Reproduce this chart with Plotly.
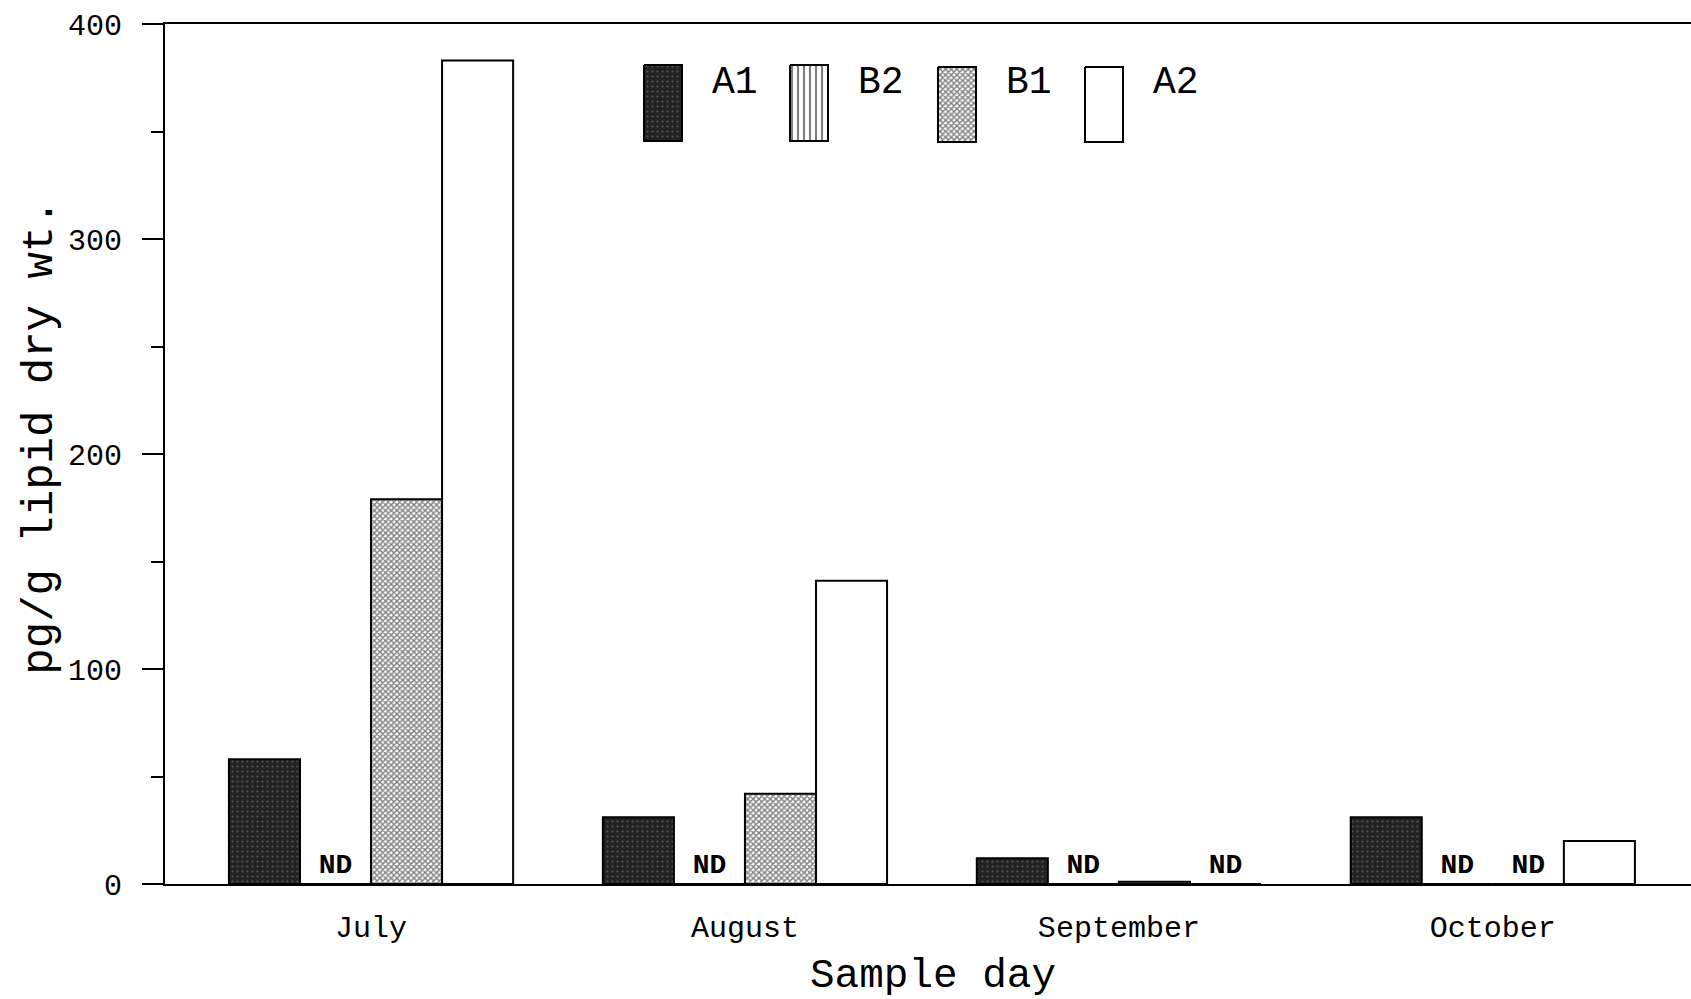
import plotly.graph_objects as go

# Sample months and measured concentrations (pg/g lipid dry wt.); None = not detected
months = ["July", "August", "September", "October"]
a1 = [58, 31, 12, 31]
b2 = [None, None, None, None]
b1 = [179, 42, 1, None]
a2 = [383, 141, None, 20]

y_ticks = [0, 100, 200, 300, 400]

FONT = "Liberation Mono"

series = [
    ("A1", a1, dict(color="#262626", pattern=dict(shape=".", fgcolor="#8a8a8a", bgcolor="#222222", size=5, solidity=0.15))),
    ("B2", b2, dict(color="white", pattern=dict(shape="|", fgcolor="#000000", bgcolor="white", size=6, solidity=0.35))),
    ("B1", b1, dict(color="white", pattern=dict(shape="x", fgcolor="#000000", bgcolor="white", size=4, solidity=0.6))),
    ("A2", a2, dict(color="white")),
]

fig = go.Figure()

for name, vals, marker in series:
    fig.add_trace(go.Bar(
        x=months,
        y=[v if v is not None else 0 for v in vals],
        text=["ND" if v is None else "" for v in vals],
        textposition="outside",
        cliponaxis=False,
        textfont=dict(family=FONT, size=28, color="black", weight="bold"),
        name=name,
        marker=dict(line=dict(color="black", width=2), **marker),
        showlegend=False,
    ))

# Legend swatches drawn on an overlay axis measured in page pixels
swatches = [
    ("A1", 644, 682, 65, 141),
    ("B2", 790, 828, 65, 141),
    ("B1", 938, 976, 67, 142),
    ("A2", 1085, 1123, 67, 142),
]
styles = {name: m for name, _, m in series}
for name, x0, x1, y0, y1 in swatches:
    m = styles[name]
    kw = {}
    if "pattern" in m:
        p = m["pattern"]
        kw["fillpattern"] = dict(shape=p["shape"], fgcolor=p["fgcolor"], bgcolor=p["bgcolor"],
                                 size=p["size"], solidity=p["solidity"])
    fig.add_trace(go.Scatter(
        x=[x0, x1, x1, x0, x0], y=[y0, y0, y1, y1, y0],
        xaxis="x2", yaxis="y2", mode="lines", fill="toself",
        fillcolor=m["color"], line=dict(color="black", width=2),
        hoverinfo="skip", showlegend=False, **kw,
    ))
    fig.add_annotation(x=x1 + 28, y=82, xref="x2", yref="y2", text=name, showarrow=False,
                       xanchor="left", yanchor="middle",
                       font=dict(family=FONT, size=38, color="black"))

fig.update_layout(
    width=1691, height=999,
    margin=dict(l=165, r=0, t=24, b=115),
    paper_bgcolor="white", plot_bgcolor="white",
    barmode="group", bargap=0.24, bargroupgap=0,
    font=dict(family=FONT, color="black"),
    xaxis=dict(
        type="category", range=[-0.551, 3.53],
        showline=True, linecolor="black", linewidth=2, mirror=True,
        ticks="", showgrid=False, zeroline=False,
        tickfont=dict(family=FONT, size=30), ticklabelstandoff=15,
    ),
    yaxis=dict(
        range=[0, 400], tickvals=y_ticks,
        showline=True, linecolor="black", linewidth=2,
        ticks="outside", ticklen=21, tickwidth=2, tickcolor="black",
        minor=dict(dtick=50, ticks="outside", ticklen=12, tickwidth=2, tickcolor="black"),
        showgrid=False, zeroline=False,
        tickfont=dict(family=FONT, size=30), ticklabelstandoff=14,
    ),
    xaxis2=dict(overlaying="x", range=[165, 1691], visible=False, fixedrange=True),
    yaxis2=dict(overlaying="y", range=[884, 24], visible=False, fixedrange=True),
    annotations=list(fig.layout.annotations) + [
        dict(text="Sample day", xref="paper", yref="paper", x=0.503, y=-0.107,
             showarrow=False, xanchor="center", yanchor="middle",
             font=dict(family=FONT, size=41, color="black")),
        dict(text="pg/g lipid dry wt.", xref="paper", yref="paper", x=-0.082, y=0.52,
             showarrow=False, xanchor="center", yanchor="middle", textangle=-90,
             font=dict(family=FONT, size=44, color="black")),
    ],
)

fig.write_html("out.html")
